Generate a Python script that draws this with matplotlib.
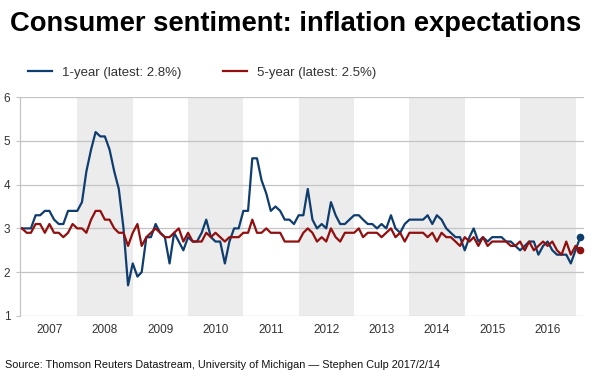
import datetime as dt
import matplotlib
matplotlib.use("Agg")
import matplotlib.pyplot as plt

plt.rcParams['font.family'] = ['Liberation Sans', 'DejaVu Sans']

# monthly survey readings, Jan 2007 .. Feb 2017
one_year = [
    3.0, 3.0, 3.0, 3.3, 3.3, 3.4, 3.4, 3.2, 3.1, 3.1, 3.4, 3.4,  # 2007
    3.4, 3.6, 4.3, 4.8, 5.2, 5.1, 5.1, 4.8, 4.3, 3.9, 3.0, 1.7,  # 2008
    2.2, 1.9, 2.0, 2.8, 2.8, 3.1, 2.9, 2.8, 2.2, 2.9, 2.7, 2.5,  # 2009
    2.8, 2.7, 2.7, 2.9, 3.2, 2.8, 2.7, 2.7, 2.2, 2.7, 3.0, 3.0,  # 2010
    3.4, 3.4, 4.6, 4.6, 4.1, 3.8, 3.4, 3.5, 3.4, 3.2, 3.2, 3.1,  # 2011
    3.3, 3.3, 3.9, 3.2, 3.0, 3.1, 3.0, 3.6, 3.3, 3.1, 3.1, 3.2,  # 2012
    3.3, 3.3, 3.2, 3.1, 3.1, 3.0, 3.1, 3.0, 3.3, 3.0, 2.9, 3.1,  # 2013
    3.2, 3.2, 3.2, 3.2, 3.3, 3.1, 3.3, 3.2, 3.0, 2.9, 2.8, 2.8,  # 2014
    2.5, 2.8, 3.0, 2.7, 2.8, 2.7, 2.8, 2.8, 2.8, 2.7, 2.7, 2.6,  # 2015
    2.5, 2.6, 2.7, 2.7, 2.4, 2.6, 2.7, 2.5, 2.4, 2.4, 2.4, 2.2,  # 2016
    2.5, 2.8,                                                    # 2017
]
five_year = [
    3.0, 2.9, 2.9, 3.1, 3.1, 2.9, 3.1, 2.9, 2.9, 2.8, 2.9, 3.1,
    3.0, 3.0, 2.9, 3.2, 3.4, 3.4, 3.2, 3.2, 3.0, 2.9, 2.9, 2.6,
    2.9, 3.1, 2.6, 2.8, 2.9, 3.0, 2.9, 2.8, 2.8, 2.9, 3.0, 2.7,
    2.9, 2.7, 2.7, 2.7, 2.9, 2.8, 2.9, 2.8, 2.7, 2.8, 2.8, 2.8,
    2.9, 2.9, 3.2, 2.9, 2.9, 3.0, 2.9, 2.9, 2.9, 2.7, 2.7, 2.7,
    2.7, 2.9, 3.0, 2.9, 2.7, 2.8, 2.7, 3.0, 2.8, 2.7, 2.9, 2.9,
    2.9, 3.0, 2.8, 2.9, 2.9, 2.9, 2.8, 2.9, 3.0, 2.8, 2.9, 2.7,
    2.9, 2.9, 2.9, 2.9, 2.8, 2.9, 2.7, 2.9, 2.8, 2.8, 2.7, 2.6,
    2.8, 2.7, 2.8, 2.6, 2.8, 2.6, 2.7, 2.7, 2.7, 2.7, 2.6, 2.6,
    2.7, 2.5, 2.7, 2.5, 2.6, 2.7, 2.6, 2.7, 2.5, 2.4, 2.7, 2.4,
    2.6, 2.5,
]
years = list(range(2007, 2017))
labels = ["1-year (latest: 2.8%)", "5-year (latest: 2.5%)"]

dates = [dt.date(2007 + i // 12, i % 12 + 1, 1) for i in range(len(one_year))]

blue = '#0e3d6e'
red = '#920f0f'
grey_txt = '#333333'

fig = plt.figure(figsize=(6, 3.76), dpi=100)
ax = fig.add_axes([20 / 600, 1 - 316 / 376, 564 / 600, 219 / 376])

# shaded alternate years
for y in years:
    if y % 2 == 0:
        ax.axvspan(dt.date(y, 1, 1), dt.date(y + 1, 1, 1), color='#ececec', lw=0, zorder=0)

ax.plot(dates, one_year, color=blue, lw=1.6, label=labels[0], zorder=3)
ax.plot(dates, five_year, color=red, lw=1.6, label=labels[1], zorder=3)
ax.plot(dates[-1], one_year[-1], 'o', color=blue, ms=4.5, zorder=4)
ax.plot(dates[-1], five_year[-1], 'o', color=red, ms=4.5, zorder=4)

ax.set_xlim(dt.date(2006, 12, 19), dt.date(2017, 2, 26))
ax.set_ylim(1, 6)
ax.set_yticks(range(1, 7))
ax.grid(axis='y', color='#c4c4c4', lw=0.9, zorder=1)
ax.set_axisbelow(True)

ax.set_xticks([dt.date(y, 7, 2) for y in years])
ax.set_xticklabels([str(y) for y in years])
ax.tick_params(axis='x', length=0, pad=6, labelsize=8.5, labelcolor=grey_txt)
ax.tick_params(axis='y', length=3, color='#c4c4c4', pad=4, labelsize=8.5, labelcolor=grey_txt)

for s in ['top', 'right', 'bottom']:
    ax.spines[s].set_visible(False)
ax.spines['left'].set_color('#c4c4c4')
ax.spines['left'].set_linewidth(0.9)

fig.text(10 / 600, 1 - 24 / 376, "Consumer sentiment: inflation expectations",
         fontsize=19.7, fontweight='bold', va='center', ha='left', color='black')

fig.legend(loc='center left', bbox_to_anchor=(28 / 600, 1 - 73 / 376), ncol=2,
           frameon=False, borderpad=0, borderaxespad=0, handlelength=1.8,
           handletextpad=0.75, columnspacing=3.2, prop={'size': 9.5},
           labelcolor=grey_txt)

fig.text(5 / 600, 1 - 365 / 376,
         "Source: Thomson Reuters Datastream, University of Michigan \u2014 Stephen Culp 2017/2/14",
         fontsize=7.8, va='center', ha='left', color='#111111')

fig.savefig("out.png", dpi=100)
